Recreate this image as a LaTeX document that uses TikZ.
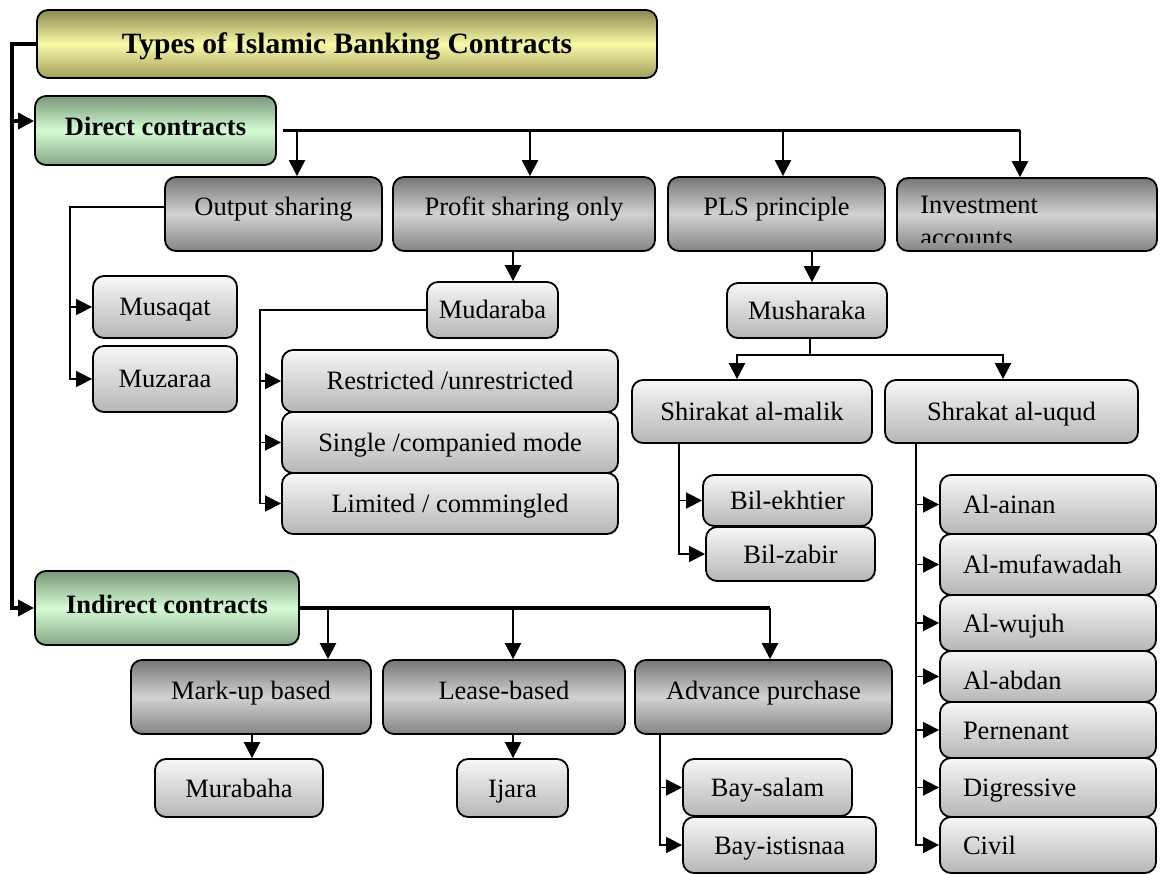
\documentclass[tikz,border=0pt]{standalone}
\usepackage{fontspec}
\setmainfont{Liberation Serif}
\usetikzlibrary{arrows.meta}

\definecolor{olivetop}{RGB}{138,136,78}
\definecolor{olivemid}{RGB}{250,250,168}
\definecolor{olivebot}{RGB}{160,158,90}
\definecolor{greentop}{RGB}{122,150,122}
\definecolor{greenmid}{RGB}{212,252,212}
\definecolor{greenbot}{RGB}{135,165,135}
\definecolor{darktop}{RGB}{118,118,118}
\definecolor{darkmid}{RGB}{210,210,210}
\definecolor{darkbot}{RGB}{132,132,132}
\definecolor{lighttop}{RGB}{247,247,247}
\definecolor{lightbot}{RGB}{182,182,182}

\tikzset{
  corners/.style n args={4}{minimum width={(#3-#1)*1pt}, minimum height={(#4-#2)*1pt},
    at={({(#1+#3)/2},{(#2+#4)/2})}},
  box/.style={draw=black, line width=1.8pt, rounded corners=11pt, inner sep=0pt,
    font=\fontsize{26.5}{31}\selectfont, text height=18pt, text depth=0pt},
  titlebox/.style={box, top color=olivetop, bottom color=olivebot, middle color=olivemid,
    font=\bfseries\fontsize{29.5}{34}\selectfont, text height=20pt, text depth=0pt},
  greenbox/.style={box, top color=greentop, bottom color=greenbot, middle color=greenmid,
    font=\bfseries\fontsize{26.5}{31}\selectfont, text height=18pt, text depth=8pt},
  darkbox/.style={box, top color=darktop, bottom color=darkbot, middle color=darkmid,
    text height=18pt, text depth=14pt},
  lightbox/.style={box, top color=lighttop, bottom color=lightbot},
  listbox/.style={lightbox, align=left, text width=170pt, inner xsep=23pt},
  headarrow/.style={-{Triangle[length=16pt, width=16pt]}},
  bus/.style={line width=3.5pt},
  drop/.style={line width=2.4pt},
  thinl/.style={line width=1.6pt},
}

\begin{document}
\begin{tikzpicture}[x=1pt, y=-1pt]
\useasboundingbox (0,0) rectangle (1160,874);

% ---- boxes ----
\node[titlebox, corners={37}{10}{657}{78}] (title) {Types of Islamic Banking Contracts};
\node[greenbox, corners={35}{96}{276}{165}] (direct) {Direct contracts};
\node[greenbox, corners={35}{571}{299}{645}] (indirect) {Indirect contracts};

\node[darkbox, corners={165}{177}{382}{251}] (out) {Output sharing};
\node[darkbox, corners={393}{177}{655}{251}] (profit) {Profit sharing only};
\node[darkbox, corners={668}{177}{885}{251}] (pls) {PLS principle};
\node[darkbox, corners={897}{178}{1157}{251}] (invest) {};
% the second line of this label is cut off by the box
\begin{scope}
  \clip (invest.north west) rectangle ([yshift=9pt]invest.south east);
  \node[anchor=north west, align=left, inner sep=0pt, font=\fontsize{26.5}{33}\selectfont]
    (investtext) at ([xshift=24pt,yshift=-19pt]invest.north west) {Investment\\accounts};
\end{scope}

\node[lightbox, corners={93}{276}{237}{338}] (musaqat) {Musaqat};
\node[lightbox, corners={93}{346}{237}{412}] (muzaraa) {Muzaraa};

\node[lightbox, corners={427}{282}{558}{338}] (mud) {Mudaraba};
\node[lightbox, corners={282}{350}{618}{412}] (restricted) {Restricted /unrestricted};
\node[lightbox, corners={282}{412}{618}{473}] (single) {Single /companied mode};
\node[lightbox, corners={282}{473}{618}{534}] (limited) {Limited / commingled};

\node[lightbox, corners={727}{283}{887}{338}] (mush) {Musharaka};
\node[lightbox, corners={632}{380}{872}{443}] (malik) {Shirakat al-malik};
\node[lightbox, corners={885}{380}{1138}{443}] (uqud) {Shrakat al-uqud};
\node[lightbox, corners={703}{475}{872}{526}] (ekhtier) {Bil-ekhtier};
\node[lightbox, corners={706}{527}{875}{581}] (zabir) {Bil-zabir};

\node[listbox, corners={940}{475}{1156}{534}] (ainan) {Al-ainan};
\node[listbox, corners={940}{534}{1156}{595}] (mufa) {Al-mufawadah};
\node[listbox, corners={940}{595}{1156}{651}] (wujuh) {Al-wujuh};
\node[listbox, corners={940}{651}{1156}{702}, text height=26pt] (abdan) {Al-abdan};
\node[listbox, corners={940}{702}{1156}{758}] (pern) {Pernenant};
\node[listbox, corners={940}{758}{1156}{817}] (digr) {Digressive};
\node[listbox, corners={940}{817}{1156}{873}] (civil) {Civil};

\node[darkbox, corners={131}{660}{371}{734}] (markup) {Mark-up based};
\node[darkbox, corners={383}{660}{625}{734}] (lease) {Lease-based};
\node[darkbox, corners={635}{660}{892}{734}] (advance) {Advance purchase};
\node[lightbox, corners={155}{759}{323}{817}] (murabaha) {Murabaha};
\node[lightbox, corners={457}{759}{568}{817}] (ijara) {Ijara};
\node[lightbox, corners={683}{759}{852}{816}] (salam) {Bay-salam};
\node[lightbox, corners={683}{817}{876}{873}] (istisnaa) {Bay-istisnaa};

% ---- trunk on the left ----
\coordinate (trunk) at (12,44);
\draw[bus, headarrow] (title.west) -- (trunk) |- (indirect.west);
\draw[bus, headarrow] (trunk |- 0,121) -- (direct.west |- 0,121);

% ---- direct contracts ----
\coordinate (d1) at (297,0);
\coordinate (d2) at (530,0);
\coordinate (d3) at (783,0);
\coordinate (d4) at (1020,0);
\draw[bus] ([xshift=6pt]direct.east) -- (direct.east -| d4);
\draw[drop, headarrow] (direct.east -| d1) -- (out.north -| d1);
\draw[drop, headarrow] (direct.east -| d2) -- (profit.north -| d2);
\draw[drop, headarrow] (direct.east -| d3) -- (pls.north -| d3);
\draw[drop, headarrow] (direct.east -| d4) -- (invest.north -| d4);

% output sharing
\coordinate (ob) at (70,207);
\draw[thinl, headarrow] (out.west |- ob) -- (ob) |- (muzaraa.west);
\draw[thinl, headarrow] (ob |- musaqat.west) -- (musaqat.west);

% profit sharing only
\coordinate (px) at (513,0);
\draw[drop, headarrow] (profit.south -| px) -- (mud.north -| px);
\coordinate (mb) at (260,0);
\draw[thinl, headarrow] (mud.west) -- (mud.west -| mb) |- (limited.west);
\draw[thinl, headarrow] (mb |- restricted.west) -- (restricted.west);
\draw[thinl, headarrow] (mb |- single.west) -- (single.west);

% PLS principle
\coordinate (sx) at (812,0);
\draw[drop, headarrow] (pls.south -| sx) -- (mush.north -| sx);
\coordinate (mj) at (810,355);
\coordinate (ma) at (737,0);
\coordinate (mc) at (1003,0);
\draw[drop] (mush.south -| mj) -- (mj);
\draw[drop, headarrow] (mj) -- (mj -| ma) -- (malik.north -| ma);
\draw[drop, headarrow] (mj) -- (mj -| mc) -- (uqud.north -| mc);

\coordinate (sb) at (679,0);
\draw[thinl, headarrow] (malik.south -| sb) |- (zabir.west);
\draw[thinl, headarrow] (sb |- ekhtier.west) -- (ekhtier.west);

\coordinate (ub) at (916,0);
\draw[thinl, headarrow] (uqud.south -| ub) |- (civil.west);
\foreach \n in {ainan,mufa,wujuh,abdan,pern,digr}
  \draw[thinl, headarrow] (ub |- \n.west) -- (\n.west);

% ---- indirect contracts ----
\coordinate (i1) at (328,0);
\coordinate (i2) at (513,0);
\coordinate (i3) at (770,0);
\draw[bus] (indirect.east) -- (indirect.east -| i3);
\draw[drop, headarrow] (indirect.east -| i1) -- (markup.north -| i1);
\draw[drop, headarrow] (indirect.east -| i2) -- (lease.north -| i2);
\draw[drop, headarrow] (indirect.east -| i3) -- (advance.north -| i3);

\coordinate (mx) at (252,0);
\draw[drop, headarrow] (markup.south -| mx) -- (murabaha.north -| mx);
\coordinate (lx) at (513,0);
\draw[drop, headarrow] (lease.south -| lx) -- (ijara.north -| lx);

\coordinate (ab) at (660,0);
\draw[thinl, headarrow] (advance.south -| ab) |- (istisnaa.west);
\draw[thinl, headarrow] (ab |- salam.west) -- (salam.west);
\end{tikzpicture}
\end{document}
